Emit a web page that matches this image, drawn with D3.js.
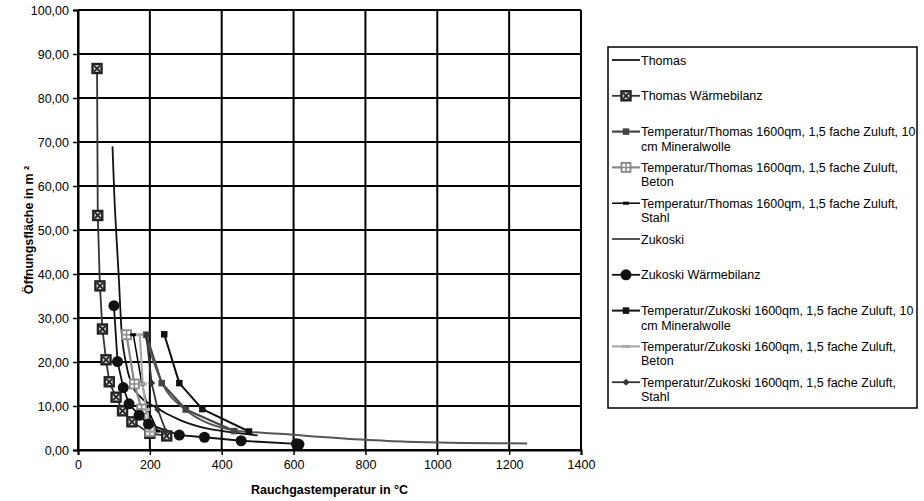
<!DOCTYPE html>
<html>
<head>
<meta charset="utf-8">
<script src="https://cdn.jsdelivr.net/npm/d3@7"></script>
<style>
  html, body { margin: 0; padding: 0; background: #fff; }
  svg { display: block; font-family: "Liberation Sans", Arial, sans-serif; }
</style>
</head>
<body>
<svg id="chart" width="924" height="501"></svg>
<script>
// Axis ticks
const xTicks = [0, 200, 400, 600, 800, 1000, 1200, 1400];
const yTicks = [0, 10, 20, 30, 40, 50, 60, 70, 80, 90, 100];

// Series: smoke gas temperature (°C) vs. opening area (m²)
const thomasX = [96, 101, 106, 113, 121, 133, 148, 172, 210, 284, 358, 430, 500];
const thomasY = [69, 58, 50, 40, 27.3, 20, 15.2, 12.2, 10.0, 6.8, 4.9, 4.0, 3.3];

const thomasWbX = [53, 55, 61, 68, 78, 87, 106, 124, 150, 200, 247];
const thomasWbY = [86.7, 53.3, 37.3, 27.5, 20.5, 15.5, 12.0, 8.9, 6.4, 3.8, 3.2];

const thomasMinX = [190, 233, 300, 435];
const thomasMinY = [26.2, 15.2, 9.2, 4.3];

const thomasBetonX = [135, 157, 177, 200];
const thomasBetonY = [26.2, 15.0, 9.3, 4.2];

const thomasStahlX = [154, 178, 195, 222];
const thomasStahlY = [26.2, 15.0, 9.2, 4.3];

const zukoskiX = [186, 234, 292, 440, 560, 785, 915, 1250];
const zukoskiY = [26.2, 15.2, 9.6, 4.4, 3.7, 2.4, 1.9, 1.5];

const zukoskiWbX = [100, 110, 126, 142, 170, 196, 282, 352, 454, 608, 615];
const zukoskiWbY = [32.8, 20.1, 14.2, 10.5, 7.9, 5.9, 3.4, 2.9, 2.1, 1.4, 1.3];

const zukoskiMinX = [240, 282, 346, 476];
const zukoskiMinY = [26.3, 15.2, 9.3, 4.2];

const zukoskiBetonX = [172, 180, 190, 205];
const zukoskiBetonY = [26.2, 15.0, 9.2, 4.2];

const zukoskiStahlX = [190, 205, 222, 245];
const zukoskiStahlY = [26.2, 15.2, 9.2, 4.2];

const seriesNames = [
  ["Thomas"],
  ["Thomas Wärmebilanz"],
  ["Temperatur/Thomas 1600qm, 1,5 fache Zuluft, 10", "cm Mineralwolle"],
  ["Temperatur/Thomas 1600qm, 1,5 fache Zuluft,", "Beton"],
  ["Temperatur/Thomas 1600qm, 1,5 fache Zuluft,", "Stahl"],
  ["Zukoski"],
  ["Zukoski Wärmebilanz"],
  ["Temperatur/Zukoski 1600qm, 1,5 fache Zuluft, 10", "cm Mineralwolle"],
  ["Temperatur/Zukoski 1600qm, 1,5 fache Zuluft,", "Beton"],
  ["Temperatur/Zukoski 1600qm, 1,5 fache Zuluft,", "Stahl"]
];

const zip = (xs, ys) => xs.map((x, i) => ({ x, y: ys[i] }));

const series = [
  { name: seriesNames[0], pts: zip(thomasX, thomasY), color: "#111", width: 1.8, marker: "none", smooth: true },
  { name: seriesNames[1], pts: zip(thomasWbX, thomasWbY), color: "#333", width: 1.8, marker: "squareX" },
  { name: seriesNames[2], pts: zip(thomasMinX, thomasMinY), color: "#444", width: 2.2, marker: "square" },
  { name: seriesNames[3], pts: zip(thomasBetonX, thomasBetonY), color: "#888", width: 2.2, marker: "squarePlus" },
  { name: seriesNames[4], pts: zip(thomasStahlX, thomasStahlY), color: "#000", width: 1.5, marker: "dash" },
  { name: seriesNames[5], pts: zip(zukoskiX, zukoskiY), color: "#555", width: 2, marker: "none", smooth: true },
  { name: seriesNames[6], pts: zip(zukoskiWbX, zukoskiWbY), color: "#111", width: 1.8, marker: "circle" },
  { name: seriesNames[7], pts: zip(zukoskiMinX, zukoskiMinY), color: "#111", width: 2, marker: "square" },
  { name: seriesNames[8], pts: zip(zukoskiBetonX, zukoskiBetonY), color: "#aaa", width: 2.2, marker: "lightDash" },
  { name: seriesNames[9], pts: zip(zukoskiStahlX, zukoskiStahlY), color: "#333", width: 1.8, marker: "diamond" }
];

const svg = d3.select("#chart");
const plot = { left: 78, right: 581, top: 10, bottom: 450 };

const x = d3.scaleLinear().domain([0, 1400]).range([plot.left, plot.right]);
const y = d3.scaleLinear().domain([0, 100]).range([plot.bottom, plot.top]);

const fmtY = d => d3.format(".2f")(d).replace(".", ",");

// Grid
const grid = svg.append("g");
grid.selectAll(".gx").data(xTicks).join("line")
  .attr("x1", d => x(d)).attr("x2", d => x(d))
  .attr("y1", plot.top).attr("y2", plot.bottom)
  .attr("stroke", "#000").attr("stroke-width", 2);
grid.selectAll(".gy").data(yTicks).join("line")
  .attr("x1", plot.left).attr("x2", plot.right)
  .attr("y1", d => y(d)).attr("y2", d => y(d))
  .attr("stroke", "#000").attr("stroke-width", 2);

// Axes
const xAxis = svg.append("g")
  .attr("transform", `translate(0,${plot.bottom})`)
  .call(d3.axisBottom(x).tickValues(xTicks).tickSize(5).tickPadding(5).tickFormat(d3.format("d")));
const yAxis = svg.append("g")
  .attr("transform", `translate(${plot.left},0)`)
  .call(d3.axisLeft(y).tickValues(yTicks).tickSize(5).tickPadding(4).tickFormat(fmtY));
[xAxis, yAxis].forEach(a => {
  a.select(".domain").attr("stroke", "#000").attr("stroke-width", 2);
  a.selectAll(".tick line").attr("stroke", "#000").attr("stroke-width", 1.5);
  a.selectAll(".tick text").attr("fill", "#000")
    .style("font-family", '"Liberation Sans", Arial, sans-serif').style("font-size", "12.5px");
});

// Axis titles
svg.append("text")
  .attr("x", (plot.left + plot.right) / 2).attr("y", 494)
  .attr("text-anchor", "middle")
  .style("font-size", "12.5px").style("font-weight", "bold")
  .text("Rauchgastemperatur in °C");
svg.append("text")
  .attr("transform", `translate(33,${(plot.top + plot.bottom) / 2}) rotate(-90)`)
  .attr("text-anchor", "middle")
  .style("font-size", "12.5px").style("font-weight", "bold")
  .text("Öffnungsfläche in m ²");

// Marker drawing
function drawMarker(g, type, cx, cy, color) {
  switch (type) {
    case "squareX": {
      const s = 9;
      g.append("rect").attr("x", cx - s / 2).attr("y", cy - s / 2).attr("width", s).attr("height", s)
        .attr("fill", "#ddd").attr("stroke", "#222").attr("stroke-width", 2.4);
      g.append("path").attr("d", `M${cx - 3},${cy - 3}L${cx + 3},${cy + 3}M${cx + 3},${cy - 3}L${cx - 3},${cy + 3}`)
        .attr("stroke", "#222").attr("stroke-width", 1.8);
      break;
    }
    case "square": {
      const s = 6.5;
      g.append("rect").attr("x", cx - s / 2).attr("y", cy - s / 2).attr("width", s).attr("height", s)
        .attr("fill", color);
      break;
    }
    case "squarePlus": {
      const s = 9;
      g.append("rect").attr("x", cx - s / 2).attr("y", cy - s / 2).attr("width", s).attr("height", s)
        .attr("fill", "#fff").attr("stroke", color).attr("stroke-width", 1.8);
      g.append("path").attr("d", `M${cx},${cy - 4}L${cx},${cy + 4}M${cx - 4},${cy}L${cx + 4},${cy}`)
        .attr("stroke", color).attr("stroke-width", 1.5);
      break;
    }
    case "dash":
      g.append("rect").attr("x", cx - 3).attr("y", cy - 1.5).attr("width", 6).attr("height", 3).attr("fill", color);
      break;
    case "lightDash":
      g.append("rect").attr("x", cx - 4).attr("y", cy - 1.5).attr("width", 8).attr("height", 3).attr("fill", color);
      break;
    case "diamond":
      g.append("path").attr("d", `M${cx},${cy - 3.5}L${cx + 3.5},${cy}L${cx},${cy + 3.5}L${cx - 3.5},${cy}Z`)
        .attr("fill", color);
      break;
    case "circle":
      g.append("circle").attr("cx", cx).attr("cy", cy).attr("r", 5.5).attr("fill", "#111");
      break;
  }
}

// Series lines and markers
const plotG = svg.append("g");
series.forEach(s => {
  const line = d3.line().x(d => x(d.x)).y(d => y(d.y))
    .curve(s.smooth ? d3.curveMonotoneX : d3.curveLinear);
  plotG.append("path").datum(s.pts).attr("d", line)
    .attr("fill", "none").attr("stroke", s.color).attr("stroke-width", s.width)
    .attr("stroke-linejoin", "round");
});
series.forEach(s => {
  if (s.marker === "none") return;
  const g = plotG.append("g");
  s.pts.forEach(p => drawMarker(g, s.marker, x(p.x), y(p.y), s.color));
});

// Legend
const leg = { left: 608, top: 47, right: 917, bottom: 408 };
const legG = svg.append("g");
legG.append("rect")
  .attr("x", leg.left).attr("y", leg.top)
  .attr("width", leg.right - leg.left).attr("height", leg.bottom - leg.top)
  .attr("fill", "#fff").attr("stroke", "#000").attr("stroke-width", 1.5);
const rowStep = 35.8;
series.forEach((s, i) => {
  const cy = leg.top + 13 + i * rowStep;
  const g = legG.append("g");
  g.append("line").attr("x1", 612).attr("x2", 640).attr("y1", cy).attr("y2", cy)
    .attr("stroke", s.color).attr("stroke-width", s.width);
  if (s.marker !== "none") drawMarker(g, s.marker, 626, cy, s.color);
  const t = g.append("text").attr("x", 641).attr("y", cy + 4.5).style("font-size", "12.5px").attr("fill", "#000");
  s.name.forEach((ln, k) => {
    t.append("tspan").attr("x", 641).attr("dy", k === 0 ? 0 : 14.5).text(ln);
  });
});
</script>
</body>
</html>
